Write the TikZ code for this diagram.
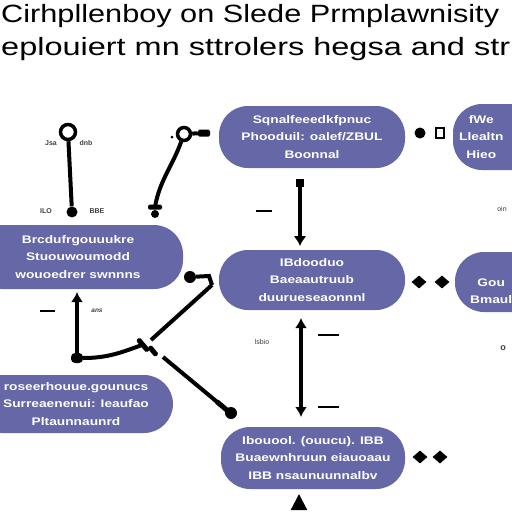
\documentclass[tikz,border=0pt]{standalone}
\usepackage{fontspec}
\setmainfont{Liberation Sans}
\usetikzlibrary{shapes.geometric,arrows.meta}
\definecolor{nodeblue}{HTML}{6567A7}
\newcommand{\xwide}[1]{\scalebox{1.25}[1]{#1}}
\begin{document}
\begin{tikzpicture}[x=1pt,y=-1pt,
  bubble/.style={fill=nodeblue, rounded corners=29pt, inner sep=0pt, text=white,
    font=\bfseries\fontsize{11}{17.5}\selectfont, align=center},
  bubbletext/.style={inner sep=0pt, text=white, font=\bfseries\fontsize{11}{17.5}\selectfont, align=center},
  link/.style={line width=4pt, black},
  thin tick/.style={line width=2pt, black},
  lbl/.style={font=\bfseries\fontsize{7}{7}\selectfont, text=black!75, inner sep=0pt},
  dotnode/.style={circle, fill=black, inner sep=0pt, minimum size=#1},
  ringnode/.style={circle, draw=black, line width=3.5pt, inner sep=0pt, minimum size=#1},
  barnode/.style={rectangle, fill=black, inner sep=0pt, rounded corners=1.5pt},
  gem/.style={diamond, fill=black, inner sep=0pt, minimum width=15pt, minimum height=13pt},
  titletext/.style={anchor=base west, inner sep=0pt, font=\fontsize{25}{25}\selectfont}
]
\useasboundingbox (0,0) rectangle (512,512);
\fill[white] (0,0) rectangle (512,512);

% title
\node[titletext] (title1) at (1,22) {\resizebox{498pt}{\height}{Cirhpllenboy on Slede Prmplawnisity}};
\node[titletext] (title2) at (1,55) {\resizebox{509pt}{\height}{eplouiert mn sttrolers hegsa and str}};

% bubbles
\node[bubble, minimum width=186pt, minimum height=62pt] (n1) at (312,137) {\xwide{Sqnalfeeedkfpnuc}\\\xwide{Phooduil: oalef/ZBUL}\\\xwide{Boonnal}};
\node[bubble, minimum width=160pt, minimum height=66pt] (n2) at (533,137) {};
\node[bubbletext, anchor=west] (n2t) at (459,137) {\xwide{fWe}\\\xwide{Llealtn}\\\xwide{Hieo}};
\node[bubble, minimum width=210pt, minimum height=64pt] (n3) at (78,257) {\xwide{Brcdufrgouuukre}\\\xwide{Stuouwoumodd}\\\xwide{wouoedrer swnnns}};
\node[bubble, minimum width=186pt, minimum height=60pt] (n4) at (312,280) {\xwide{IBdooduo}\\\xwide{Baeaautruub}\\\xwide{duurueseaonnnl}};
\node[bubble, minimum width=160pt, minimum height=60pt] (n5) at (535,282) {};
\node[bubbletext, anchor=west] (n5t) at (470,291) {\xwide{Gou}\\\xwide{Bmaul}};
\node[bubble, minimum width=200pt, minimum height=58pt] (n6) at (73,404) {};
\node[bubbletext] (n6t) at (76,404) {\xwide{roseerhouue.gounucs}\\\xwide{Surreaenenui: Ieaufao}\\\xwide{Pltaunnaunrd}};
\node[bubble, minimum width=184pt, minimum height=62pt] (n7) at (313,458) {\xwide{Ibouool. (ouucu). IBB}\\\xwide{Buaewnhruun eiauoaau}\\\xwide{IBB nsaunuunnalbv}};

% connector A (top left)
\node[ringnode=15pt] (a1) at (68,132) {};
\node[dotnode=11pt] (a2) at (72,212) {};
\draw[link] (a1) -- (a2);
\node[lbl] (la1) at (51,143) {Jsa};
\node[lbl] (la2) at (86,143) {dnb};
\node[lbl] (la3) at (46,211) {ILO};
\node[lbl] (la4) at (97,211) {BBE};

% connector B
\node[ringnode=13pt] (b1) at (184,134) {};
\node[barnode, minimum width=12pt, minimum height=7pt] (b0) at (204,133) {};
\draw[link] (b1) -- (b0);
\node[dotnode=3pt] (bdot) at (172,137) {};
\coordinate (b2) at (155,207);
\draw[link] (b1) to[out=-110,in=80] (b2);
\node[barnode, minimum width=14pt, minimum height=5pt] (bt) at (b2) {};
\node[dotnode=8pt] (bb) at (155,214) {};

% connector C (vertical between n1 and n4)
\node[rectangle, fill=black, inner sep=0pt, minimum size=8pt] (c1) at (300,183) {};
\coordinate (c2) at (300,246);
\draw[link, -{Latex[length=10pt,width=13pt]}] (c1) -- (c2);
\coordinate (ct1) at (256,211);
\coordinate (ct2) at (272,211);
\draw[thin tick] (ct1) -- (ct2);

% marks between n1 and n2
\node[circle, fill=black, inner sep=0pt, minimum size=11pt] (m1) at (420,133) {};
\node[rectangle, draw=black, line width=2.5pt, inner sep=0pt, minimum width=8pt, minimum height=10pt] (m2) at (440,133) {};

% gems between n4 and n5, n7 and right
\node[gem] (g1) at (419,282) {};
\node[gem] (g2) at (442,282) {};
\node[gem] (g3) at (420,457) {};
\node[gem] (g4) at (440,457) {};

% connector F (left bottom)
\node[barnode, minimum width=12pt, minimum height=10pt, rounded corners=4pt] (f1) at (77,358) {};
\coordinate (f0) at (77,292);
\draw[link, -{Latex[length=10pt,width=12pt]}] (f1) -- (f0);
\coordinate (j) at (142,345);
\draw[link] (f1) to[out=0,in=-160] (j);
\node[barnode, minimum width=5pt, minimum height=16pt, rotate=40] (jb1) at (143,345) {};
\node[barnode, minimum width=5pt, minimum height=12pt, rotate=40] (jb2) at (153,351) {};
\coordinate (j2) at (151,340);
\coordinate (fk) at (212,285);
\draw[link] (j2) -- (fk);
\node[dotnode=12pt] (kdot) at (190,277) {};
\coordinate (kbend) at (209,276);
\draw[link] (kdot) -- (kbend) -- (fk);
\coordinate (j3) at (163,357);
\coordinate (t2) at (222,406);
\draw[link] (j3) -- (t2);
\node[barnode, minimum width=5pt, minimum height=16pt, rotate=50] (tb) at (t2) {};
\node[dotnode=12pt] (t3) at (231,413) {};
\coordinate (ft1) at (40,311);
\coordinate (ft2) at (55,311);
\draw[thin tick] (ft1) -- (ft2);
\node[lbl, font=\bfseries\itshape\fontsize{6.5}{6.5}\selectfont] (lf) at (97,311) {ans};

% connector G (vertical between n4 and n7)
\coordinate (g0a) at (301,318);
\coordinate (g0b) at (301,417);
\draw[link, {Latex[length=10pt,width=12pt]}-{Latex[length=10pt,width=12pt]}] (g0a) -- (g0b);
\coordinate (gt1) at (318,335);
\coordinate (gt2) at (339,335);
\coordinate (gt3) at (318,407);
\coordinate (gt4) at (339,407);
\draw[thin tick] (gt1) -- (gt2);
\draw[thin tick] (gt3) -- (gt4);

% small labels
\node[lbl, font=\fontsize{7}{7}\selectfont] (ls1) at (262,342) {lsbio};
\node[lbl, font=\fontsize{7}{7}\selectfont] (ls2) at (502,209) {oin};
\node[lbl, font=\bfseries\fontsize{9}{9}\selectfont] (ls3) at (503,348) {o};

% bottom arrowhead
\node[isosceles triangle, isosceles triangle apex angle=55, shape border rotate=90, fill=black, inner sep=0pt, minimum height=16pt] (tri) at (299,505) {};
\end{tikzpicture}
\end{document}
